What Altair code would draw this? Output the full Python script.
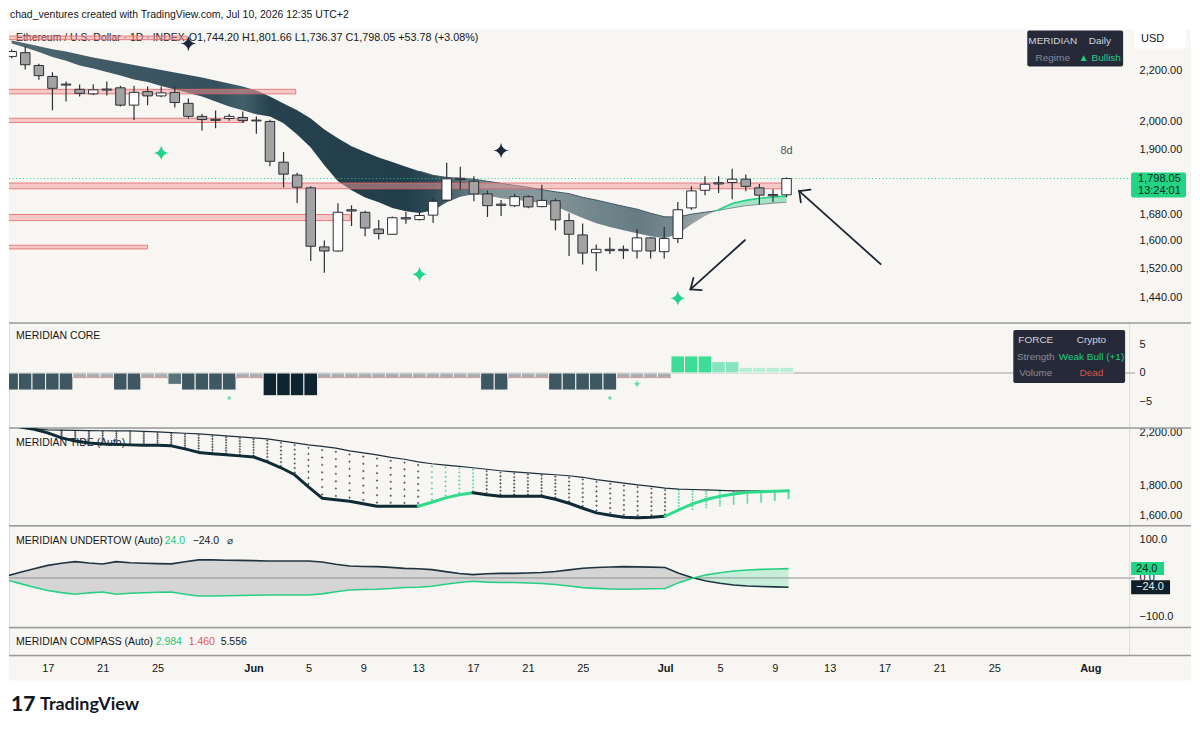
import altair as alt
import numpy as np
import pandas as pd

FONT = "Liberation Sans"
INK = "#131722"
CREAM = "#f8f6f2"
SEP = "#9b9b9b"
GREEN = "#22c77a"

W = 1122
H_MAIN, H_CORE, H_TIDE, H_UT, H_CMP = 294, 105, 98, 102, 28
X_DOMAIN = [-17.83, 63.83]
FULL_W = 1184

# ---------------- data ----------------
dates = pd.date_range("2026-05-14", "2026-07-10", freq="D")
day = [int((t - pd.Timestamp("2026-06-01")).days) for t in dates]  # -18 .. 39

open_ = [2260, 2276, 2222, 2177, 2146, 2125, 2107, 2126, 2131, 2063, 2116, 2099, 2113, 2070, 2020,
         2009, 2012, 2016, 2006, 2001, 1854, 1810, 1767, 1582, 1570, 1696, 1688, 1636, 1620, 1671,
         1665, 1679, 1727, 1799, 1789, 1747, 1714, 1709, 1738, 1706, 1725, 1662, 1618, 1565, 1575,
         1575, 1570, 1609, 1568, 1607, 1702, 1759, 1784, 1785, 1796, 1767, 1745, 1744.20]
high = [2290, 2302, 2229, 2194, 2156, 2144, 2145, 2156, 2139, 2139, 2136, 2136, 2136, 2089, 2029,
        2042, 2029, 2039, 2020, 2007, 1890, 1818, 1772, 1601, 1717, 1710, 1693, 1664, 1675, 1689,
        1693, 1734, 1852, 1838, 1806, 1758, 1727, 1747, 1743, 1777, 1732, 1685, 1653, 1589, 1610,
        1586, 1636, 1612, 1642, 1721, 1772, 1806, 1806, 1831, 1812, 1780, 1762, 1801.66]
low = [2252, 2205, 2163, 2043, 2077, 2097, 2103, 2101, 2058, 2006, 2063, 2094, 2054, 2012, 1967,
       1976, 2004, 1995, 1955, 1840, 1768, 1718, 1541, 1507, 1568, 1645, 1614, 1604, 1619, 1652,
       1662, 1655, 1723, 1760, 1723, 1673, 1676, 1705, 1701, 1704, 1632, 1555, 1531, 1512, 1561,
       1547, 1548, 1548, 1548, 1594, 1695, 1743, 1750, 1730, 1756, 1713, 1720, 1736.37]
close = [2281, 2225, 2180, 2129, 2142, 2109, 2123, 2122, 2063, 2113, 2099, 2111, 2073, 2020, 2008,
         2005, 2020, 2004, 2003, 1857, 1813, 1769, 1584, 1570, 1688, 1692, 1639, 1622, 1671, 1667,
         1678, 1723, 1797, 1795, 1747, 1709, 1710, 1738, 1705, 1726, 1664, 1620, 1564, 1575, 1571,
         1571, 1609, 1570, 1607, 1696, 1757, 1779, 1780, 1796, 1772, 1743, 1741, 1798.05]

ma_slow = [2328, 2317, 2304, 2291, 2281, 2268, 2256, 2245, 2234, 2224, 2214, 2203, 2193, 2183, 2173,
           2160, 2148, 2136, 2120, 2097, 2069, 2043, 2012, 1971, 1939, 1910, 1890, 1870, 1855, 1838,
           1823, 1809, 1802, 1799, 1796, 1789, 1782, 1775, 1769, 1761, 1754, 1748, 1736, 1727, 1717,
           1707, 1698, 1685, 1674, 1673, 1682, 1688, 1694, 1702, 1709, 1713, 1717, 1720]
ma_fast = [2315, 2298, 2279, 2258, 2242, 2222, 2209, 2195, 2181, 2164, 2154, 2138, 2124, 2110, 2097,
           2077, 2058, 2043, 2028, 2020, 1994, 1953, 1906, 1843, 1789, 1759, 1735, 1720, 1702, 1691,
           1686, 1694, 1720, 1738, 1746, 1742, 1733, 1728, 1723, 1717, 1707, 1688, 1670, 1654, 1642,
           1632, 1623, 1614, 1608, 1620, 1651, 1676, 1696, 1716, 1726, 1733, 1737, 1740]

zone_top = [2348, 2125, 2013, 1783, 1681, 1587]
zone_bottom = [2332, 2107, 1997, 1764, 1662, 1576]
zone_end_day = [-5.1, 2.9, -0.9, 39.2, 6.9, -8.0]

star_day = [-5, -7, 12, 18, 31]
star_price = [2315, 1886, 1503, 1895, 1437]
star_kind = ["dark", "green", "green", "dark", "green"]

arrow_x1 = [35.93, 31.93, 31.93, 45.92, 39.93, 39.93]
arrow_y1 = [1602, 1461, 1461, 1532, 1756, 1756]
arrow_x2 = [31.93, 32.75, 32.15, 39.93, 40.76, 40.05]
arrow_y2 = [1461, 1459, 1493, 1756, 1761, 1720]

last_open, last_high, last_low, last_close = 1744.20, 1801.66, 1736.37, 1798.05
last_change, last_change_pct = 53.78, 3.08

core_val = [-3, -3, -3, -3, -3, -0.8, -0.8, -0.8, -3, -3, -0.8, -0.8, -2, -3, -3, -3, -3, -0.8, -0.8,
            -4, -4, -4, -4, -0.8, -0.8, -0.8, -0.8, -0.8, -0.8, -0.8, -0.8, -0.8, -0.8, -0.8, -0.8,
            -3, -3, -0.8, -0.8, -0.8, -3, -3, -3, -3, -3, -0.8, -0.8, -0.8, -0.8, 3, 3, 3, 2, 2,
            1, 1, 1, 1]
core_marker_day = [-2, 26, 28]
core_marker_val = [-4.4, -4.4, -1.9]
core_marker_kind = ["plus", "plus", "star"]

tide_slow = [2269, 2251, 2234, 2225, 2223, 2222, 2220, 2218, 2217, 2217, 2213, 2208, 2202, 2197, 2192,
             2183, 2175, 2166, 2158, 2150, 2133, 2117, 2101, 2089, 2075, 2053, 2037, 2022, 2003, 1988,
             1968, 1954, 1944, 1935, 1924, 1913, 1902, 1894, 1887, 1880, 1873, 1866, 1855, 1839, 1826,
             1814, 1802, 1791, 1779, 1773, 1770, 1767, 1764, 1761, 1761, 1761, 1761, 1761]
tide_fast = [2285, 2251, 2230, 2200, 2158, 2133, 2117, 2109, 2105, 2101, 2098, 2097, 2093, 2069, 2041,
             2030, 2022, 2014, 2006, 1968, 1924, 1873, 1788, 1712, 1702, 1692, 1676, 1660, 1660, 1660,
             1660, 1685, 1714, 1735, 1748, 1735, 1725, 1725, 1725, 1725, 1705, 1679, 1647, 1618, 1603,
             1591, 1588, 1591, 1597, 1637, 1675, 1703, 1725, 1739, 1752, 1755, 1758, 1761]
tide_dot_floor_tail = [1631, 1631, 1644, 1656, 1669, 1675, 1682, 1695, 1708]  # Jul 2 .. Jul 10
tide_bull_line_days = [12, 13, 14, 15, 16, 30, 31, 32, 33, 34, 35, 36, 37, 38, 39]
tide_bull_dot_days = [13, 14, 15, 16, 31, 32, 33, 34, 35, 36, 37, 38, 39]

undertow = [5, 14.6, 23.8, 32.3, 37.7, 41.8, 38.2, 35.9, 41.8, 39.2, 37.9, 36.7, 36.2, 41.8, 46.4,
            46.4, 45.6, 45.1, 44.4, 43.6, 43.6, 43.6, 43.6, 40.8, 35.4, 30.8, 29.5, 29.0, 27.2, 24.6,
            23.8, 21.3, 16.2, 11.5, 8.5, 10.8, 11.8, 11.8, 12.8, 14.1, 16.7, 20.8, 24.9, 26.7, 28.2,
            29.0, 28.5, 27.7, 26.9, 12.0, 0.5, -8.0, -13.5, -18.0, -20.5, -22.0, -23.0, -24.0]

tick_days = [-15, -11, -7, 0, 4, 8, 12, 16, 20, 24, 30, 34, 38, 42, 46, 50, 54, 61]
tick_labels = ["17", "21", "25", "Jun", "5", "9", "13", "17", "21", "25", "Jul", "5", "9", "13",
               "17", "21", "25", "Aug"]
month_days = [0, 30, 61]

# ---------------- helpers ----------------
ONE = pd.DataFrame({"k": [0]})
STAR = "M0,-1 Q0.14,-0.14 1,0 Q0.14,0.14 0,1 Q-0.14,0.14 -1,0 Q-0.14,-0.14 0,-1 Z"


def X(field="d", axis=None):
    return alt.X(f"{field}:Q", scale=alt.Scale(domain=X_DOMAIN, nice=False, zero=False), axis=axis)


def axis_right(values, fmt, z=0):
    return alt.Axis(orient="right", values=values, format=fmt, domain=False, ticks=False, tickSize=0,
                    grid=False, labelPadding=10, labelFont=FONT, labelFontSize=11, labelColor=INK,
                    labelAlign="left", labelBaseline="middle", title=None, zindex=z,
                    labelOverlap=False, labelFlush=False)


def txt(text, x, y, size=11, color=INK, weight="normal", align="left", font=FONT):
    return alt.Chart(ONE).mark_text(text=text, align=align, baseline="middle", font=font,
                                    fontSize=size, color=color, fontWeight=weight).encode(
        x=alt.value(x), y=alt.value(y))


def box(x1, x2, y1, y2, fill, radius=0):
    return alt.Chart(ONE).mark_rect(color=fill, cornerRadius=radius).encode(
        x=alt.value(x1), x2=alt.value(x2), y=alt.value(y1), y2=alt.value(y2))


def hline(y):
    return alt.Chart(ONE).mark_rule(color=SEP, strokeWidth=1.5).encode(
        x=alt.value(0), x2=alt.value(FULL_W), y=alt.value(y))


def crossing(a, b):
    diff = np.array(a, float) - np.array(b, float)
    i = int(np.where((diff[:-1] > 0) & (diff[1:] <= 0))[0][-1])
    t = diff[i] / (diff[i] - diff[i + 1])
    return i, float(day[i] + t), float(a[i] + (a[i + 1] - a[i]) * t)


span = day[-1] - day[0]


def off(dv):
    return float(min(1.0, max(0.0, (dv - day[0]) / span)))


# ---------------- main price pane ----------------
pscale = alt.Scale(type="log", domain=[1371.8, 2376.6], nice=False)
paxis = axis_right([1440, 1520, 1600, 1680, 1900, 2000, 2200], ",.2f", 1)


def Yp(f):
    return alt.Y(f"{f}:Q", scale=pscale, axis=paxis)


bg_white = box(-8, 1192, -28, 702, "#ffffff")
bg_cream = box(0, FULL_W, 0, 652, CREAM)

head1 = txt("chad_ventures created with TradingView.com, Jul 10, 2026 12:35 UTC+2", 1, -15, 10.5)
head2 = txt("Ethereum / U.S. Dollar · 1D · INDEX", 7, 8, 10.5)
head3 = txt(f"O{last_open:,.2f}  H{last_high:,.2f}  L{last_low:,.2f}  C{last_close:,.2f}  "
            f"+{last_change:.2f} (+{last_change_pct:.2f}%)", 180, 8, 10.8)

rib = pd.DataFrame({"d": day, "a": ma_slow, "b": ma_fast})
ci, cross_d, cross_p = crossing(ma_slow, ma_fast)
rib_stops = [(-18, "#526a74"), (-10, "#3d5863"), (-3, "#35505c"), (-1, "#42606b"), (1, "#26424e"),
             (11, "#223e4a"), (13, "#2e4b57"), (15, "#566e77"), (17, "#7e9298"), (21, "#86989e"),
             (24, "#768a90"), (28, "#667b83"), (30.5, "#76888f"), (32, "#93a0a3"),
             (cross_d, "#a9b2b3")]
stops = [alt.GradientStop(offset=off(dv), color=c) for dv, c in rib_stops]
stops += [alt.GradientStop(offset=off(cross_d), color="#a9e6c8"),
          alt.GradientStop(offset=1.0, color="#9fe2c1")]
ribbon = alt.Chart(rib).mark_area(
    clip=True, color=alt.LinearGradient(gradient="linear", stops=stops, x1=0, x2=1, y1=0, y2=0)
).encode(x=X(), y=Yp("a"), y2="b")

edge_bear = pd.DataFrame({"d": day[30:ci + 1] + [cross_d], "a": ma_slow[30:ci + 1] + [cross_p]})
edge_a = alt.Chart(edge_bear).mark_line(color="#3f5a65", strokeWidth=1, clip=True).encode(
    x=X(), y=Yp("a"))
bull = pd.DataFrame({"d": [cross_d] + day[ci + 1:], "a": [cross_p] + ma_slow[ci + 1:],
                     "b": [cross_p] + ma_fast[ci + 1:]})
bull_a = alt.Chart(bull).mark_line(color="#7f9296", strokeWidth=1, clip=True).encode(
    x=X(), y=Yp("a"))
bull_b = alt.Chart(bull).mark_line(color="#24d183", strokeWidth=1.6, clip=True).encode(
    x=X(), y=Yp("b"))

zdf = pd.DataFrame({"d0": [-20] * len(zone_top), "d1": zone_end_day, "top": zone_top,
                    "bot": zone_bottom})
zones = alt.Chart(zdf).mark_rect(fill="#f29b9b", fillOpacity=0.5, stroke="#e06666",
                                 strokeOpacity=0.8, strokeWidth=1, clip=True).encode(
    x=X("d0"), x2="d1", y=Yp("top"), y2="bot")

lp = pd.DataFrame({"p": [last_close]})
price_line = alt.Chart(lp).mark_rule(color="#1fce83", strokeWidth=1, strokeDash=[1, 2.5]).encode(
    x=alt.value(0), x2=alt.value(W + 2), y=Yp("p"))

cdf = pd.DataFrame({"d": day, "o": open_, "h": high, "l": low, "c": close})
cdf["fill"] = np.where(cdf["c"] >= cdf["o"], "#ffffff", "#a3a3a3")
wicks = alt.Chart(cdf).mark_rule(color="#2b2e35", strokeWidth=1.2, clip=True).encode(
    x=X(), y=Yp("l"), y2="h")
bodies = alt.Chart(cdf).mark_bar(width=9.5, stroke="#2b2e35", strokeWidth=1, clip=True).encode(
    x=X(), y=Yp("o"), y2="c", fill=alt.Fill("fill:N", scale=None))

sdf = pd.DataFrame({"d": star_day, "p": star_price, "k": star_kind})
sdf["col"] = sdf["k"].map({"dark": "#18283a", "green": "#1fd38a"})
stars = alt.Chart(sdf).mark_point(shape=STAR, filled=True, size=230, opacity=1).encode(
    x=X(), y=Yp("p"), color=alt.Color("col:N", scale=None))

adf = pd.DataFrame({"x1": arrow_x1, "y1": arrow_y1, "x2": arrow_x2, "y2": arrow_y2})
arrows = alt.Chart(adf).mark_rule(color="#1b2733", strokeWidth=1.8, strokeCap="round").encode(
    x=X("x1"), x2="x2", y=Yp("y1"), y2="y2")

t8 = alt.Chart(pd.DataFrame({"d": [39], "p": [1892]})).mark_text(
    text="8d", font=FONT, fontSize=11, color="#4a4e58").encode(x=X(), y=Yp("p"))

mer_box = box(1020, 1116, 1, 37, "#262a38", 2)
mer_t = [txt("MERIDIAN", 1045.5, 11.3, 10, "#d1d4dc", align="center"),
         txt("Daily", 1092.7, 11.3, 10, "#d1d4dc", align="center"),
         txt("Regime", 1045.5, 28, 10, "#868b98", align="center"),
         txt("▲ Bullish", 1092.7, 28, 10, "#1fcf83", align="center")]
usd_box = box(1127, 1179, -1, 19, "#ffffff", 3)
usd_t = txt("USD", 1134, 9, 11)

pbox = alt.Chart(lp).mark_rect(color="#22d483", yOffset=-6, y2Offset=19, cornerRadius=2).encode(
    x=alt.value(W + 2), x2=alt.value(W + 57), y=Yp("p"), y2="p")
ptxt1 = alt.Chart(lp).mark_text(text=f"{last_close:,.2f}", align="left", baseline="middle",
                                font=FONT, fontSize=11, color="#0b2a1c").encode(
    x=alt.value(W + 9), y=Yp("p"))
ptxt2 = alt.Chart(lp).mark_text(text="13:24:01", align="left", baseline="middle", dy=12.5,
                                font=FONT, fontSize=11, color="#0b2a1c").encode(
    x=alt.value(W + 9), y=Yp("p"))

main = alt.layer(bg_white, bg_cream, head1, head2, ribbon, edge_a, bull_a, bull_b, zones,
                 price_line, wicks, bodies, stars, arrows, t8, head3, mer_box, *mer_t, usd_box,
                 usd_t, pbox, ptxt1, ptxt2).properties(width=W, height=H_MAIN)

# ---------------- core pane ----------------
cscale = alt.Scale(domain=[-9.65, 8.77], nice=False, zero=False)
caxis = axis_right([-5, 0, 5], "d")


def Yc(f):
    return alt.Y(f"{f}:Q", scale=cscale, axis=caxis)


core_colors = {-3: "#3e5762", -2: "#5c727b", -4: "#0f2431", -0.8: "#a9aeb1", 3: "#3ddc97",
               2: "#86e5bc", 1: "#b9eed4"}
core = pd.DataFrame({"d": day, "v": core_val})
core["z"] = 0.0
core["col"] = core["v"].map(core_colors)
core["lo"] = core["d"] - 0.5
core["hi"] = core["d"] + 0.5
core_bars = alt.Chart(core).mark_bar(width=13.74, stroke=CREAM, strokeWidth=1, clip=True).encode(
    x=X(), y=Yc("v"), y2="z", fill=alt.Fill("col:N", scale=None))
core_neu = alt.Chart(core[core["v"] == -0.8]).mark_rule(color="#d6a0a0", strokeWidth=1.2,
                                                        clip=True).encode(
    x=X("lo"), x2="hi", y=Yc("v"))
zero_df = pd.DataFrame({"z": [0.0]})
core_zero = alt.Chart(zero_df).mark_rule(color="#a0a0a0", strokeWidth=1).encode(
    x=alt.value(0), x2=alt.value(W + 6), y=Yc("z"))
cm = pd.DataFrame({"d": core_marker_day, "v": core_marker_val, "k": core_marker_kind})
cm["shape"] = cm["k"].map({"plus": "cross", "star": STAR})
cm["size"] = cm["k"].map({"plus": 14, "star": 60})
core_marks = alt.Chart(cm).mark_point(filled=True, color="#62dca5", opacity=1).encode(
    x=X(), y=Yc("v"), shape=alt.Shape("shape:N", scale=None), size=alt.Size("size:Q", scale=None))
force_box = box(1006, 1118, 7, 60, "#262a38", 2)
force_t = [txt("FORCE", 1028.5, 17, 10, "#d1d4dc", align="center"),
           txt("Crypto", 1084.3, 17, 10, "#d1d4dc", align="center"),
           txt("Strength", 1028.5, 33.5, 10, "#868b98", align="center"),
           txt("Weak Bull (+1)", 1084.3, 33.5, 10, "#1fcf83", align="center"),
           txt("Volume", 1028.5, 50, 10, "#868b98", align="center"),
           txt("Dead", 1084.3, 50, 10, "#d9534f", align="center")]
core_pane = alt.layer(hline(0), txt("MERIDIAN CORE", 7, 13, 10.5), core_zero, core_bars, core_neu,
                      core_marks, force_box, *force_t).properties(width=W, height=H_CORE)

# ---------------- tide pane ----------------
tscale = alt.Scale(type="log", domain=[1539.9, 2242.6], nice=False)
taxis = axis_right([1600, 1800, 2200], ",.2f")


def Yt(f):
    return alt.Y(f"{f}:Q", scale=tscale, axis=taxis)


tide_floor = tide_fast[:len(day) - len(tide_dot_floor_tail)] + tide_dot_floor_tail
dot_rows = []
for d_, top, bot in zip(day, tide_slow, tide_floor):
    gap = np.log(top) - np.log(bot)
    if gap < 0.015:
        continue
    for k in range(7):
        t = (k + 0.5) / 7
        dot_rows.append({"d": d_, "p": float(np.exp(np.log(top) - gap * t)),
                         "col": "#62d9a2" if d_ in tide_bull_dot_days else "#5a5e66"})
dots = alt.Chart(pd.DataFrame(dot_rows)).mark_point(shape="cross", filled=True, size=5,
                                                    opacity=1, clip=True).encode(
    x=X(), y=Yt("p"), color=alt.Color("col:N", scale=None))

thin = alt.Chart(pd.DataFrame({"d": day, "p": tide_slow})).mark_line(
    color="#1d2f3a", strokeWidth=1.2, clip=True).encode(x=X(), y=Yt("p"))

run_rows = []
run_id = -1
prev = None
for i in range(len(day) - 1):
    g = day[i] in tide_bull_line_days and day[i + 1] in tide_bull_line_days
    colr = "#2fdc8c" if g else "#0f2b36"
    if colr != prev:
        run_id += 1
        run_rows.append({"d": day[i], "p": tide_fast[i], "run": run_id, "col": colr})
        prev = colr
    run_rows.append({"d": day[i + 1], "p": tide_fast[i + 1], "run": run_id, "col": colr})
thick = alt.Chart(pd.DataFrame(run_rows)).mark_line(strokeWidth=3, strokeCap="round",
                                                    strokeJoin="round", clip=True).encode(
    x=X(), y=Yt("p"), color=alt.Color("col:N", scale=None), detail="run:N",
    order=alt.Order("d:Q"))
tide_pane = alt.layer(hline(0), txt("MERIDIAN TIDE (Auto)", 7, 15, 10.5), dots, thin,
                      thick).properties(width=W, height=H_TIDE)

# ---------------- undertow pane ----------------
uscale = alt.Scale(domain=[-127.4, 134.1], nice=False, zero=False)
uaxis = axis_right([-100, 0, 100], ".1f")


def Yu(f):
    return alt.Y(f"{f}:Q", scale=uscale, axis=uaxis)


udf = pd.DataFrame({"d": day, "v": undertow})
udf["g"] = -udf["v"]
uj, u_cross, _ = crossing(undertow, [0.0] * len(undertow))
fc = off(u_cross)
ustops = [alt.GradientStop(offset=0.0, color="#d5d5d5"), alt.GradientStop(offset=fc, color="#d5d5d5"),
          alt.GradientStop(offset=fc, color="#c6eed9"), alt.GradientStop(offset=1.0, color="#c6eed9")]
u_area = alt.Chart(udf).mark_area(
    clip=True, color=alt.LinearGradient(gradient="linear", stops=ustops, x1=0, x2=1, y1=0, y2=0)
).encode(x=X(), y=Yu("v"), y2="g")
u_zero = alt.Chart(zero_df).mark_rule(color="#8e8e8e", strokeWidth=1).encode(
    x=alt.value(0), x2=alt.value(W + 6), y=Yu("z"))
u_dark = alt.Chart(udf).mark_line(color="#1f3440", strokeWidth=1.6, clip=True).encode(
    x=X(), y=Yu("v"))
u_green = alt.Chart(udf).mark_line(color="#27cf85", strokeWidth=1.6, clip=True).encode(
    x=X(), y=Yu("g"))
lab_df = pd.DataFrame({"v": [24.0, -24.0]})
ub1 = alt.Chart(lab_df.iloc[[0]]).mark_rect(color="#22d483", yOffset=-6.5, y2Offset=6.5).encode(
    x=alt.value(W + 2), x2=alt.value(W + 35), y=Yu("v"), y2="v")
ub2 = alt.Chart(lab_df.iloc[[1]]).mark_rect(color="#0e1f29", yOffset=-7, y2Offset=7).encode(
    x=alt.value(W + 2), x2=alt.value(W + 41), y=Yu("v"), y2="v")
ut1 = alt.Chart(lab_df.iloc[[0]]).mark_text(text="24.0", align="left", baseline="middle", font=FONT,
                                            fontSize=11, color="#0b2a1c").encode(
    x=alt.value(W + 7), y=Yu("v"))
ut2 = alt.Chart(lab_df.iloc[[1]]).mark_text(text="−24.0", align="left", baseline="middle",
                                            font=FONT, fontSize=11, color="#e6eef2").encode(
    x=alt.value(W + 7), y=Yu("v"))
ut_pane = alt.layer(hline(0), u_area, u_zero, u_dark, u_green,
                    txt("MERIDIAN UNDERTOW (Auto)", 7, 15, 10.5), txt("24.0", 156, 15, 10.5, GREEN),
                    txt("−24.0", 184, 15, 10.5), txt("⌀", 218, 15, 10.5),
                    ub1, ub2, ut1, ut2).properties(width=W, height=H_UT)

# ---------------- compass pane + time axis ----------------
label_expr = " : ".join(f"datum.value == {v} ? '{s}'" for v, s in zip(tick_days, tick_labels)) + " : ''"
bold_test = " || ".join(f"datum.value == {v}" for v in month_days)
xaxis = alt.Axis(values=tick_days, labelExpr=label_expr, domain=False, ticks=False, tickSize=0,
                 grid=False, labelPadding=7, labelFont=FONT, labelFontSize=11, labelColor=INK,
                 labelFontWeight={"condition": {"test": bold_test, "value": "bold"}, "value": "normal"},
                 title=None, labelOverlap=False, labelFlush=False, orient="bottom")
bottom_sep = alt.Chart(pd.DataFrame({"d": [X_DOMAIN[0]]})).mark_rule(
    color=SEP, strokeWidth=1.5).encode(x=X("d", axis=xaxis), x2=alt.value(FULL_W),
                                       y=alt.value(H_CMP))
cmp_pane = alt.layer(hline(0), txt("MERIDIAN COMPASS (Auto)", 7, 14.5, 10.5),
                     txt("2.984", 147, 14.5, 10.5, GREEN), txt("1.460", 180, 14.5, 10.5, "#e0545a"),
                     txt("5.556", 212, 14.5, 10.5), bottom_sep,
                     txt("17", 2, 78, 21, INK, 900, font="Lato"),
                     txt("TradingView", 31, 78, 18, INK, "bold", font="Lato")
                     ).properties(width=W, height=H_CMP)

chart = alt.VConcatChart(vconcat=[main, core_pane, tide_pane, ut_pane, cmp_pane], spacing=0,
                         bounds="flush", padding=0, background="#ffffff").configure_view(
    stroke="transparent").configure(font=FONT)

chart.save("out.html", embed_options={"renderer": "svg", "actions": False})
